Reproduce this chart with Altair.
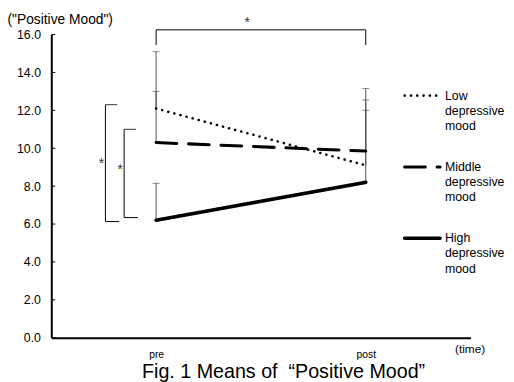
import altair as alt
import pandas as pd

# ---- data ----
series = ["Low depressive mood", "Middle depressive mood", "High depressive mood"]
times = ["pre", "post"]
pre_means = [12.1, 10.3, 6.2]
post_means = [9.1, 9.85, 8.2]
pre_sd = [3.0, 2.7, 1.95]
post_sd = [4.05, 2.7, 3.8]
y_ticks = [0, 2, 4, 6, 8, 10, 12, 14, 16]

# significance annotations (y in data units)
top_bracket = [16.25, 15.45]          # horizontal level, leg bottom
left_brackets_top = [12.3, 11.0]      # outer, inner
left_brackets_bottom = [6.13, 6.34]
FONT = "Liberation Sans"

rows = []
for i, s in enumerate(series):
    rows.append(dict(series=s, time="pre", k=0, mean=pre_means[i], top=pre_means[i] + pre_sd[i]))
    rows.append(dict(series=s, time="post", k=1, mean=post_means[i], top=post_means[i] + post_sd[i]))
df = pd.DataFrame(rows)

x_scale = alt.Scale(type="point", domain=times, padding=0.5)
y_scale = alt.Scale(domain=[0, 16])

x_axis = alt.Axis(ticks=False, labelPadding=12, labelFontSize=10.5, labelAngle=0,
                  titleX=425, titleY=11, titleAlign="center", titleBaseline="middle",
                  titleFontSize=12, titleFontWeight="normal", titleFont=FONT)
y_axis = alt.Axis(values=y_ticks, format=".1f", ticks=False, labelOverlap=False,
                  labelPadding=11, labelFontSize=12.5,
                  titleAngle=0, titleAlign="left", titleX=-45, titleY=-15,
                  titleBaseline="middle", titleFontSize=14, titleFontWeight="normal",
                  titleFont=FONT)
Y_TITLE = '("Positive Mood")'


def xe(field="time"):
    return alt.X(f"{field}:N", scale=x_scale, title="(time)", axis=x_axis)


def ye(field="mean"):
    return alt.Y(f"{field}:Q", scale=y_scale, title=Y_TITLE, axis=y_axis)


dash_scale = alt.Scale(domain=series, range=[[0.1, 6.3], [21, 12], [1, 0]])
width_scale = alt.Scale(domain=series, range=[2.6, 3.6, 3.2])

base = alt.Chart(df)
err = base.mark_rule(color="#555555", strokeWidth=1).encode(x=xe(), y=ye(), y2="top:Q")
caps = base.mark_tick(color="#555555", orient="horizontal", size=7, thickness=1).encode(
    x=xe(), y=ye("top"))
lines = base.mark_line(color="black", strokeCap="round").encode(
    x=xe(), y=ye(),
    strokeDash=alt.StrokeDash("series:N", scale=dash_scale, legend=None),
    strokeWidth=alt.StrokeWidth("series:N", scale=width_scale, legend=None),
    detail="series:N", order=alt.Order("k:Q"),
)

# inward y-axis ticks
tick_df = pd.DataFrame({"mean": y_ticks})
yticks = alt.Chart(tick_df).mark_rule(color="black", strokeWidth=1).encode(
    x=alt.value(0), x2=alt.value(4), y=ye())

# top significance bracket
tb_df = pd.DataFrame({"time": ["pre"], "time2": ["post"], "mean": [top_bracket[0]]})
tb_h = alt.Chart(tb_df).mark_rule(color="black", strokeWidth=1).encode(
    x=xe(), x2="time2:N", y=ye())
tl_df = pd.DataFrame({"time": times, "mean": [top_bracket[0]] * 2, "mean2": [top_bracket[1]] * 2})
tb_v = alt.Chart(tl_df).mark_rule(color="black", strokeWidth=1).encode(
    x=xe(), y=ye(), y2="mean2:Q")
star_df = pd.DataFrame({"mean": [16.6], "s": ["*"]})
tb_star = alt.Chart(star_df).mark_text(fontSize=14, color="#333333", font=FONT, baseline="middle").encode(
    x=alt.value(199), y=ye(), text="s:N")

# left significance brackets (outer, inner)
left_layers = []
bx = [55, 74]
star_y = [9.15, 8.85]
for j in range(2):
    bdf = pd.DataFrame({"mean": [left_brackets_top[j]], "mean2": [left_brackets_bottom[j]],
                        "mid": [star_y[j]], "s": ["*"]})
    c = alt.Chart(bdf)
    left_layers.append(c.mark_rule(color="black", strokeWidth=1).encode(
        x=alt.value(bx[j]), y=ye(), y2="mean2:Q"))
    left_layers.append(c.mark_rule(color="#333333", strokeWidth=1).encode(
        x=alt.value(bx[j]), x2=alt.value(bx[j] + 12), y=ye()))
    left_layers.append(c.mark_rule(color="black", strokeWidth=1).encode(
        x=alt.value(bx[j]), x2=alt.value(bx[j] + 14), y=ye("mean2")))
    left_layers.append(c.mark_text(fontSize=14, color="#333333", font=FONT, baseline="middle").encode(
        x=alt.value(bx[j] - 4), y=ye("mid"), text="s:N"))

main = alt.layer(err, caps, lines, yticks, tb_h, tb_v, tb_star, *left_layers)

# legend drawn inside the plot area
leg_df = pd.DataFrame({"series": series, "label": [s.replace(" ", "\n") for s in series]})
leg_y = alt.Y("series:N", scale=alt.Scale(type="point", domain=series, range=[62, 207], padding=0),
              axis=None)
leg_lines = alt.Chart(leg_df).mark_rule(color="black", strokeCap="round").encode(
    x=alt.value(359), x2=alt.value(395), y=leg_y,
    strokeDash=alt.StrokeDash("series:N", scale=dash_scale, legend=None),
    strokeWidth=alt.StrokeWidth("series:N", scale=width_scale, legend=None),
)
leg_text = alt.Chart(leg_df).mark_text(
    align="left", baseline="alphabetic", dy=4, lineBreak="\n", fontSize=12.5,
    lineHeight=15.5, font=FONT, color="black").encode(
    x=alt.value(400), y=leg_y, text="label:N")
legend = alt.layer(leg_lines, leg_text)

chart = alt.layer(main, legend).resolve_scale(y="independent").properties(
    width=426, height=308, autosize="none",
    padding={"left": 44, "top": 24, "right": 36, "bottom": 42},
    title=alt.TitleParams("Fig. 1 Means of\u00a0 “Positive Mood”", orient="bottom", anchor="middle",
                          fontSize=20, font=FONT, fontWeight="normal", dx=23, offset=2,
                          color="black"),
).configure_axis(
    domainColor="black", domainWidth=2, labelFont=FONT, labelColor="black", grid=False,
    titleColor="black",
).configure_view(stroke=None)

chart.save("out.html", embed_options={"renderer": "svg", "actions": False})
